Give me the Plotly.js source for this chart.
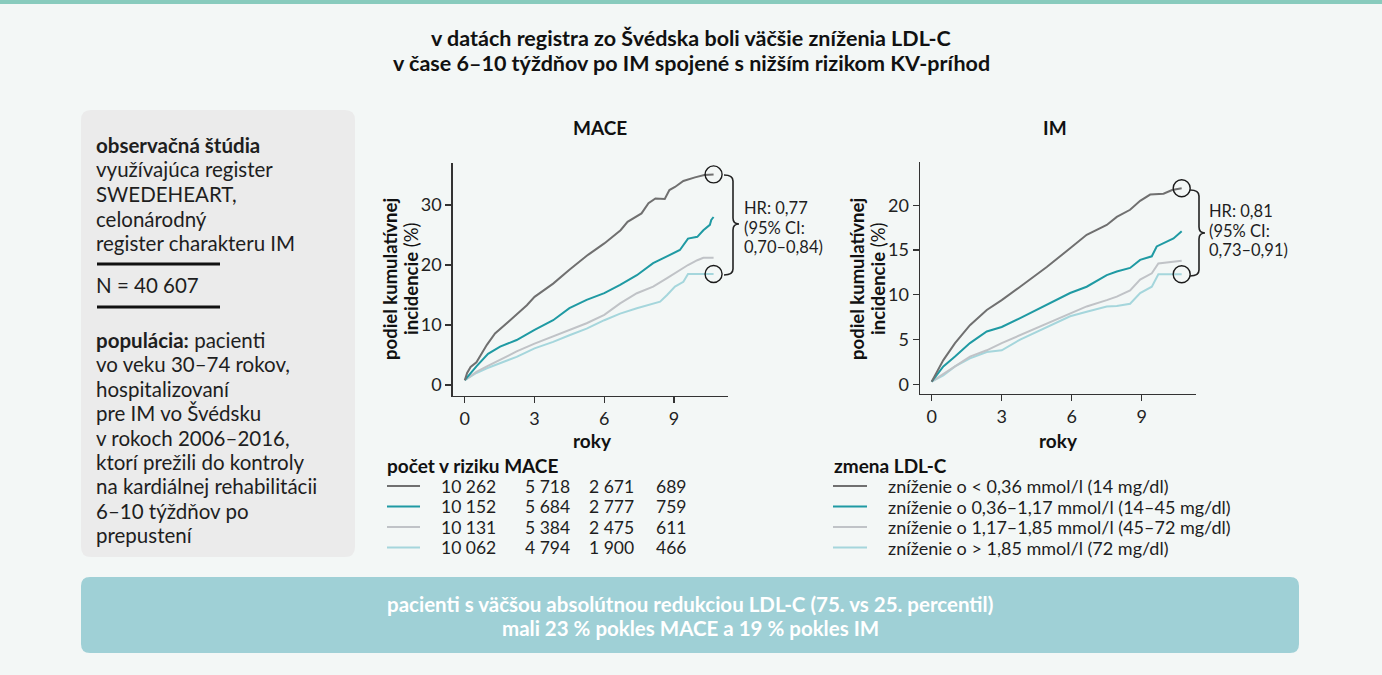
<!DOCTYPE html>
<html>
<head>
<meta charset="utf-8">
<script src="https://cdn.plot.ly/plotly-3.0.1.min.js"></script>
<style>
  html, body { margin: 0; padding: 0; background: #f3f7f6; }
  #chart { width: 1382px; height: 675px; }
</style>
</head>
<body>
<div id="chart"></div>
<script>
// ---------- DATA ----------
const seriesNames = [
  "zníženie o < 0,36 mmol/l (14 mg/dl)",
  "zníženie o 0,36–1,17 mmol/l (14–45 mg/dl)",
  "zníženie o 1,17–1,85 mmol/l (45–72 mg/dl)",
  "zníženie o > 1,85 mmol/l (72 mg/dl)"
];
const seriesColors = ["#707070", "#1f9aa3", "#c0c3c7", "#a5d6dc"];

// MACE cumulative incidence (%)
const maceX1 = [0, 0.1, 0.25, 0.5, 0.95, 1.3, 1.95, 2.67, 3.0, 3.8, 4.5, 5.3, 6.0, 6.7, 7.0, 7.6, 7.9, 8.2, 8.6, 8.8, 9.04, 9.4, 9.9, 10.3, 10.7];
const maceY1 = [0.8, 2.0, 3.0, 3.8, 6.7, 8.6, 10.8, 13.3, 14.7, 16.9, 19.2, 21.7, 23.6, 25.8, 27.2, 28.6, 30.3, 31.1, 31.0, 32.5, 33.0, 34.0, 34.6, 35.0, 35.1];
const maceX2 = [0, 0.5, 1.0, 1.52, 2.23, 3.0, 3.8, 4.5, 5.24, 6.0, 6.68, 7.4, 8.1, 8.7, 9.25, 9.6, 10.0, 10.26, 10.54, 10.6, 10.7];
const maceY2 = [0.8, 3.1, 5.2, 6.4, 7.5, 9.2, 10.8, 12.8, 14.2, 15.3, 16.7, 18.3, 20.3, 21.4, 22.5, 24.4, 24.7, 25.8, 26.7, 27.5, 28.0];
const maceX3 = [0, 0.5, 0.95, 1.52, 2.23, 3.0, 3.8, 4.5, 5.24, 6.0, 6.68, 7.4, 8.1, 8.7, 9.25, 9.6, 10.0, 10.26, 10.7];
const maceY3 = [0.8, 2.2, 3.1, 4.2, 5.6, 6.9, 8.1, 9.2, 10.3, 11.7, 13.6, 15.3, 16.4, 17.8, 19.2, 20.0, 20.8, 21.2, 21.2];
const maceX4 = [0, 0.5, 0.95, 1.52, 2.23, 3.0, 3.8, 4.5, 5.24, 6.0, 6.68, 7.4, 8.1, 8.4, 8.7, 9.04, 9.4, 9.6, 10.7];
const maceY4 = [0.8, 2.0, 2.8, 3.6, 4.7, 6.1, 7.2, 8.3, 9.4, 10.8, 11.9, 12.8, 13.6, 13.9, 15.0, 16.4, 17.2, 18.5, 18.5];

// IM cumulative incidence (%)
const imX1 = [0, 0.5, 1.0, 1.64, 2.36, 3.0, 3.79, 4.93, 5.93, 6.64, 7.5, 7.93, 8.5, 8.93, 9.36, 9.93, 10.3, 10.71];
const imY1 = [0.3, 2.7, 4.6, 6.6, 8.3, 9.4, 10.9, 13.1, 15.2, 16.7, 17.8, 18.7, 19.5, 20.5, 21.2, 21.3, 21.7, 21.9];
const imX2 = [0, 0.5, 1.0, 1.64, 2.36, 3.0, 3.79, 4.93, 5.93, 6.64, 7.5, 7.93, 8.5, 8.93, 9.43, 9.64, 10.07, 10.36, 10.71];
const imY2 = [0.3, 2.0, 3.1, 4.6, 5.9, 6.4, 7.4, 8.9, 10.2, 10.9, 12.2, 12.6, 13.0, 13.9, 14.3, 15.4, 15.9, 16.3, 17.1];
const imX3 = [0, 0.5, 1.0, 1.64, 2.36, 3.0, 3.79, 4.93, 5.93, 6.64, 7.5, 7.93, 8.5, 8.93, 9.43, 9.71, 10.71];
const imY3 = [0.3, 1.2, 2.0, 3.1, 3.8, 4.6, 5.5, 6.8, 7.9, 8.7, 9.4, 9.8, 10.5, 11.7, 12.4, 13.5, 13.8];
const imX4 = [0, 0.5, 1.0, 1.64, 2.36, 3.0, 3.79, 4.93, 5.93, 6.64, 7.5, 7.93, 8.5, 8.93, 9.43, 9.71, 10.71];
const imY4 = [0.3, 1.0, 2.0, 2.9, 3.6, 3.8, 5.0, 6.4, 7.6, 8.1, 8.7, 8.75, 9.0, 10.2, 10.9, 12.3, 12.3];

const xTicks = [0, 3, 6, 9];
const maceYTicks = [0, 10, 20, 30];
const imYTicks = [0, 5, 10, 15, 20];

const riskHeader = "počet v riziku MACE";
const riskRows = [
  ["10 262", "5 718", "2 671", "689"],
  ["10 152", "5 684", "2 777", "759"],
  ["10 131", "5 384", "2 475", "611"],
  ["10 062", "4 794", "1 900", "466"]
];
const legendHeader = "zmena LDL-C";

const mainTitle = ["v datách registra zo Švédska boli väčšie zníženia LDL-C", "v čase 6–10 týždňov po IM spojené s nižším rizikom KV-príhod"];
const panelTitles = ["MACE", "IM"];
const hrMace = ["HR: 0,77", "(95% CI:", "0,70–0,84)"];
const hrIm = ["HR: 0,81", "(95% CI:", "0,73–0,91)"];
const sideBlock1 = ["<b>observačná štúdia</b>", "využívajúca register", "SWEDEHEART,", "celonárodný", "register charakteru IM"];
const sideN = "N = 40 607";
const sideBlock2 = ["<b>populácia:</b> pacienti", "vo veku 30–74 rokov,", "hospitalizovaní", "pre IM vo Švédsku", "v rokoch 2006–2016,", "ktorí prežili do kontroly", "na kardiálnej rehabilitácii", "6–10 týždňov po", "prepustení"];
const bannerText = ["pacienti s väčšou absolútnou redukciou LDL-C (75. vs 25. percentil)", "mali 23 % pokles MACE a 19 % pokles IM"];

// ---------- LAYOUT HELPERS ----------
const W = 1382, H = 675;
const FONT = "Lato, 'Noto Sans', sans-serif";
const TXT = "#1e1e1e";
const px = x => x / W;
const py = y => 1 - y / H;

const annotations = [];
function ann(text, x, y, opts) {
  annotations.push(Object.assign({
    text: text, x: px(x), y: py(y), xref: "paper", yref: "paper",
    showarrow: false, xanchor: "left", yanchor: "middle", align: "left",
    font: { family: FONT, size: 18, color: TXT }
  }, opts || {}));
}
function lines(arr, x, y0, dy, opts) {
  arr.forEach((t, i) => ann(t, x, y0 + i * dy, opts));
}
const shapes = [];
function roundRect(x0, y0, x1, y1, r, fill) {
  const p = (x, y) => px(x) + "," + py(y);
  const path = "M" + p(x0 + r, y0) + " L" + p(x1 - r, y0) + " Q" + p(x1, y0) + " " + p(x1, y0 + r) +
    " L" + p(x1, y1 - r) + " Q" + p(x1, y1) + " " + p(x1 - r, y1) +
    " L" + p(x0 + r, y1) + " Q" + p(x0, y1) + " " + p(x0, y1 - r) +
    " L" + p(x0, y0 + r) + " Q" + p(x0, y0) + " " + p(x0 + r, y0) + " Z";
  shapes.push({ type: "path", xref: "paper", yref: "paper", path: path, fillcolor: fill, line: { width: 0 }, layer: "below" });
}
function brace(x0, x1, x2, yTop, yMid, yBot, r) {
  const p = (x, y) => px(x) + "," + py(y);
  const path = "M" + p(x0, yTop) + " Q" + p(x1, yTop) + " " + p(x1, yTop + r) +
    " L" + p(x1, yMid - r) + " Q" + p(x1, yMid) + " " + p(x2, yMid) +
    " Q" + p(x1, yMid) + " " + p(x1, yMid + r) +
    " L" + p(x1, yBot - r) + " Q" + p(x1, yBot) + " " + p(x0, yBot);
  shapes.push({ type: "path", xref: "paper", yref: "paper", path: path, line: { color: "#222", width: 1.6 } });
}
function hline(x0, x1, y, color, width) {
  shapes.push({ type: "line", xref: "paper", yref: "paper", x0: px(x0), x1: px(x1), y0: py(y), y1: py(y), line: { color: color, width: width } });
}

// background pieces
shapes.push({ type: "rect", xref: "paper", yref: "paper", x0: 0, x1: 1, y0: py(4), y1: 1, fillcolor: "#88cbbd", line: { width: 0 }, layer: "below" });
roundRect(81, 110, 355, 557, 10, "#ebebeb");
roundRect(81, 577, 1299, 653, 9, "#9fd0d6");

// title
lines(mainTitle.map(t => "<b>" + t + "</b>"), 691, 38.5, 24.5, { xanchor: "center", align: "center", font: { family: FONT, size: 21.5, color: "#111" } });

// side panel
const sideFont = { family: FONT, size: 20.5, color: TXT };
lines(sideBlock1, 94, 145, 24.5, { font: sideFont });
hline(97, 220, 264, "#111", 3);
ann(sideN, 94, 285, { font: sideFont });
hline(97, 220, 307, "#111", 3);
lines(sideBlock2, 94, 340, 24.4, { font: sideFont });

// panel titles
ann("<b>" + panelTitles[0] + "</b>", 600, 127, { xanchor: "center", font: { family: FONT, size: 19, color: "#111" } });
ann("<b>" + panelTitles[1] + "</b>", 1055, 127, { xanchor: "center", font: { family: FONT, size: 19, color: "#111" } });

// y-axis titles (rotated, two lines)
const yTitle1 = "<b>podiel kumulatívnej</b>";
const yTitle2 = "<b>incidencie</b> (%)";
[[390, 411], [857, 878]].forEach(([xa, xb]) => {
  ann(yTitle1, xa, 279, { xanchor: "center", align: "center", textangle: -90, font: { family: FONT, size: 18.5, color: "#111" } });
  ann(yTitle2, xb, 279, { xanchor: "center", align: "center", textangle: -90, font: { family: FONT, size: 18.5, color: "#111" } });
});

// x-axis titles
ann("<b>roky</b>", 592, 440, { xanchor: "center", font: { family: FONT, size: 19, color: "#111" } });
ann("<b>roky</b>", 1058, 440, { xanchor: "center", font: { family: FONT, size: 19, color: "#111" } });

// HR labels and braces
const hrFont = { family: FONT, size: 16.5, color: TXT };
brace(724, 733, 739, 175, 224, 275, 6);
lines(hrMace, 742, 208, 19.5, { font: hrFont });
brace(1190, 1199, 1205, 190, 233, 276, 6);
lines(hrIm, 1207, 211, 19.5, { font: hrFont });

// risk table
ann("<b>" + riskHeader + "</b>", 385, 465, { font: { family: FONT, size: 19, color: "#111" } });
const riskColX = [468, 547, 611, 671];
const rowY = [486, 506.5, 527, 547.5];
riskRows.forEach((row, i) => {
  hline(387, 420, rowY[i], seriesColors[i], 2);
  row.forEach((v, j) => ann(v, riskColX[j], rowY[i], { xanchor: "center", font: { family: FONT, size: 17.5, color: TXT } }));
});

// legend
ann("<b>" + legendHeader + "</b>", 832, 465, { font: { family: FONT, size: 19, color: "#111" } });
seriesNames.forEach((n, i) => {
  hline(833, 867, rowY[i], seriesColors[i], 2);
  ann(n, 886, rowY[i], { font: { family: FONT, size: 18, color: TXT } });
});

// banner
lines(bannerText.map(t => "<b>" + t + "</b>"), 690, 604, 23.5, { xanchor: "center", align: "center", font: { family: FONT, size: 20.5, color: "#ffffff" } });

// ---------- TRACES ----------
const maceXs = [maceX1, maceX2, maceX3, maceX4], maceYs = [maceY1, maceY2, maceY3, maceY4];
const imXs = [imX1, imX2, imX3, imX4], imYs = [imY1, imY2, imY3, imY4];
const traces = [];
[3, 2, 1, 0].forEach(i => {
  traces.push({ x: maceXs[i], y: maceYs[i], xaxis: "x", yaxis: "y", mode: "lines", name: seriesNames[i], line: { color: seriesColors[i], width: 2 }, hoverinfo: "skip" });
  traces.push({ x: imXs[i], y: imYs[i], xaxis: "x2", yaxis: "y2", mode: "lines", name: seriesNames[i], line: { color: seriesColors[i], width: 2 }, hoverinfo: "skip" });
});
// end-point circles (highest vs lowest group)
function endCircles(xs, ys, xa, ya) {
  const a = xs[0], b = xs[3], c = ys[0], d = ys[3];
  traces.push({
    x: [a[a.length - 1], b[b.length - 1]], y: [c[c.length - 1], d[d.length - 1]],
    xaxis: xa, yaxis: ya, mode: "markers", hoverinfo: "skip",
    marker: { symbol: "circle-open", size: 17, color: "#1a1a1a", line: { width: 1.4, color: "#1a1a1a" } }
  });
}
endCircles(maceXs, maceYs, "x", "y");
endCircles(imXs, imYs, "x2", "y2");

const axisCommon = {
  showline: true, linecolor: "#333", linewidth: 1.5, mirror: false,
  ticks: "outside", ticklen: 6, tickwidth: 1.3, tickcolor: "#333",
  showgrid: false, zeroline: false, fixedrange: true,
  tickfont: { family: FONT, size: 18, color: "#222" }
};

const layout = {
  width: W, height: H,
  margin: { l: 0, r: 0, t: 0, b: 0 },
  paper_bgcolor: "#f3f7f6", plot_bgcolor: "rgba(0,0,0,0)",
  showlegend: false,
  font: { family: FONT },
  xaxis: Object.assign({}, axisCommon, { domain: [px(452.7), px(728)], range: [-0.52, 11.32], tickvals: xTicks, anchor: "y" }),
  yaxis: Object.assign({}, axisCommon, { domain: [py(395.7), py(162.7)], range: [-1.78, 37.05], tickvals: maceYTicks, anchor: "x" }),
  xaxis2: Object.assign({}, axisCommon, { domain: [px(920), px(1195.7)], range: [-0.5, 11.31], tickvals: xTicks, anchor: "y2" }),
  yaxis2: Object.assign({}, axisCommon, { domain: [py(393.7), py(161.7)], range: [-1.05, 24.87], tickvals: imYTicks, anchor: "x2" }),
  annotations: annotations,
  shapes: shapes
};

Plotly.newPlot("chart", traces, layout, { displayModeBar: false, staticPlot: true });
</script>
</body>
</html>
